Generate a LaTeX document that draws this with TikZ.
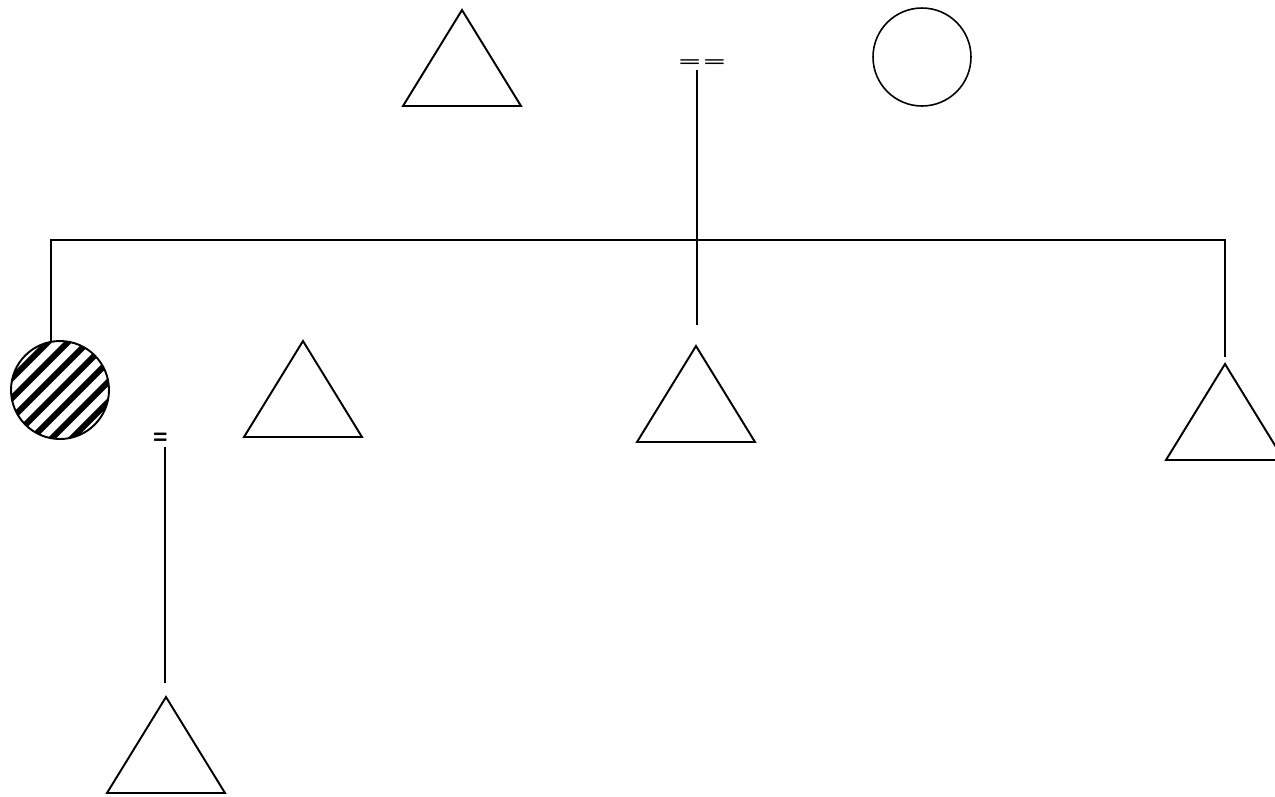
\documentclass[tikz,border=0pt]{standalone}
\usepackage{fontspec}
\setmainfont{DejaVu Sans}
\begin{document}
\begin{tikzpicture}[x=0.02cm,y=-0.02cm,
  ln/.style={line width=0.75pt,black},
  shp/.style={line width=1.1pt,black,line join=miter},
  tri/.pic={\draw[shp] (0,0) -- (59,96) -- (-59,96) -- cycle; \coordinate (-apex) at (0,0);},
  ring/.style={circle,draw,line width=0.9pt,minimum size=1.96cm,inner sep=0pt},
  eqmark/.style={inner sep=0pt,font=\fontsize{14}{14}\selectfont}]
\clip (0,0) rectangle (1275,796);
\fill[white] (0,0) rectangle (1275,796);
% top generation
\pic (ta) at (462,10) {tri};
\node[ring] (ca) at (922,57) {};
\node[eqmark,xscale=1.2,yscale=0.7] (eqa) at (702,64) {==};
% sibship
\node[ring,line width=1.1pt,path picture={
  \foreach \k in {-7,...,7}
    \draw[line width=0.12cm] ([shift={({10*\k-70},{10*\k+70})}]path picture bounding box.center) -- ([shift={({10*\k+70},{10*\k-70})}]path picture bounding box.center);
}] (cb) at (60,390) {};
\pic (tb) at (303,341) {tri};
\pic (tc) at (696,346) {tri};
\pic (td) at (1225,364) {tri};
% third generation
\node[eqmark,xscale=0.8,yscale=1.2] (eqb) at (161,440) {=};
\pic (te) at (166,697) {tri};
% connectors
\coordinate (va1) at (697,70);
\coordinate (va2) at (697,325);
\draw[ln] (va1) -- (va2);
\coordinate (lb) at (51,342);
\coordinate (lt) at (51,240);
\coordinate (rt) at (1225,240);
\coordinate (rb) at (1225,357);
\draw[ln] (lb) -- (lt) -- (rt) -- (rb);
\coordinate (vb1) at (165,447);
\coordinate (vb2) at (165,683);
\draw[ln] (vb1) -- (vb2);
\end{tikzpicture}
\end{document}
